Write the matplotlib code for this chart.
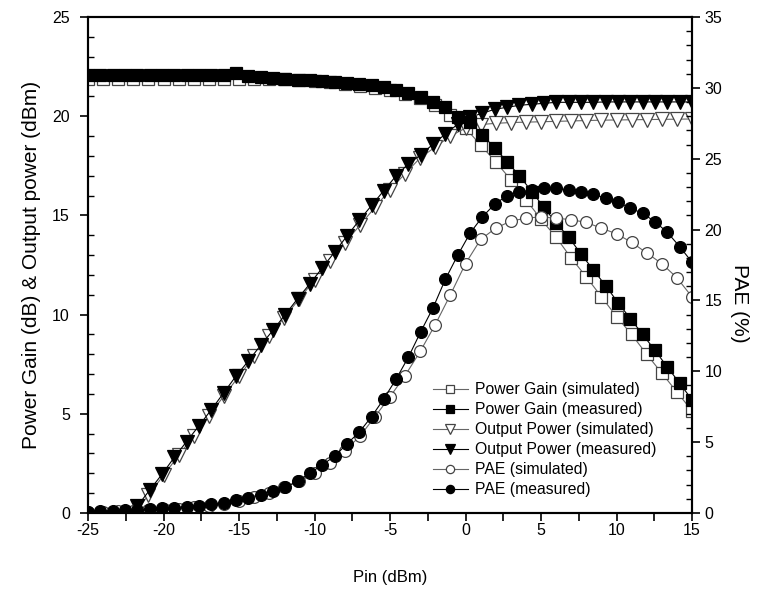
"""Power gain, output power and PAE versus input power (sim vs measured)."""
import matplotlib
matplotlib.use("Agg")
import matplotlib.pyplot as plt
from matplotlib.ticker import MultipleLocator

plt.rcParams["font.family"] = ["Liberation Sans", "DejaVu Sans"]
plt.rcParams["font.size"] = 11
plt.rcParams["axes.unicode_minus"] = False

# simulated sweep, 1 dB steps
pin_sim = [-25, -24, -23, -22, -21, -20, -19, -18, -17, -16, -15, -14, -13,
           -12, -11, -10, -9, -8, -7, -6, -5, -4, -3, -2, -1, 0, 1, 2, 3, 4,
           5, 6, 7, 8, 9, 10, 11, 12, 13, 14, 15]
gain_sim = [21.9, 21.9, 21.9, 21.9, 21.9, 21.9, 21.9, 21.9, 21.9, 21.9, 21.9,
            21.9, 21.9, 21.85, 21.8, 21.75, 21.7, 21.6, 21.5, 21.4, 21.3, 21.1,
            20.9, 20.55, 20.05, 19.4, 18.55, 17.7, 16.8, 15.8, 14.8, 13.9,
            12.85, 11.9, 10.9, 9.9, 9.0, 8.0, 7.05, 6.1, 5.15]
pout_sim = [-3.1, -2.1, -1.1, -0.1, 0.9, 1.9, 2.9, 3.9, 4.9, 5.9, 6.9, 7.9,
            8.9, 9.85, 10.8, 11.75, 12.7, 13.6, 14.5, 15.4, 16.3, 17.1, 17.9,
            18.45, 19.0, 19.4, 19.58, 19.64, 19.68, 19.7, 19.72, 19.74, 19.76,
            19.78, 19.8, 19.81, 19.82, 19.83, 19.84, 19.85, 19.86]
pae_sim = [0.08, 0.1, 0.12, 0.15, 0.2, 0.25, 0.3, 0.4, 0.5, 0.65, 0.85, 1.1,
           1.4, 1.8, 2.25, 2.8, 3.5, 4.4, 5.4, 6.8, 8.2, 9.7, 11.4, 13.3, 15.4,
           17.6, 19.3, 20.1, 20.6, 20.8, 20.9, 20.8, 20.7, 20.5, 20.1, 19.7,
           19.1, 18.35, 17.6, 16.6, 15.25]

# measured sweep, 50 points from -25 to 15 dBm
pin_meas = [-25.00, -24.18, -23.37, -22.55, -21.73, -20.92, -20.10, -19.29,
            -18.47, -17.65, -16.84, -16.02, -15.20, -14.39, -13.57, -12.76,
            -11.94, -11.12, -10.31, -9.49, -8.67, -7.86, -7.04, -6.22, -5.41,
            -4.59, -3.78, -2.96, -2.14, -1.33, -0.51, 0.31, 1.12, 1.94, 2.76,
            3.57, 4.39, 5.20, 6.02, 6.84, 7.65, 8.47, 9.29, 10.10, 10.92,
            11.73, 12.55, 13.37, 14.18, 15.00]
gain_meas = [22.1, 22.1, 22.1, 22.1, 22.1, 22.1, 22.1, 22.1, 22.1, 22.1, 22.1,
             22.1, 22.2, 22.05, 22.0, 21.93, 21.85, 21.83, 21.8, 21.78, 21.72,
             21.67, 21.62, 21.56, 21.47, 21.32, 21.18, 20.97, 20.72, 20.46,
             19.98, 19.7, 19.05, 18.4, 17.7, 17.0, 16.2, 15.4, 14.6, 13.9,
             13.05, 12.25, 11.45, 10.6, 9.8, 9.0, 8.2, 7.35, 6.55, 5.7]
pout_meas = [-2.9, -2.1, -1.27, -0.45, 0.35, 1.15, 1.95, 2.8, 3.6, 4.4, 5.2,
             6.05, 6.9, 7.65, 8.45, 9.2, 10.0, 10.8, 11.55, 12.35, 13.15,
             13.95, 14.75, 15.5, 16.25, 17.0, 17.6, 18.05, 18.6, 19.1, 19.6,
             19.95, 20.15, 20.35, 20.45, 20.55, 20.6, 20.65, 20.7, 20.7, 20.7,
             20.7, 20.72, 20.72, 20.72, 20.72, 20.72, 20.72, 20.72, 20.72]
pae_meas = [0.1, 0.12, 0.15, 0.18, 0.22, 0.27, 0.32, 0.38, 0.45, 0.52, 0.62,
            0.74, 0.9, 1.08, 1.3, 1.52, 1.8, 2.26, 2.8, 3.4, 4.0, 4.87, 5.7,
            6.8, 8.05, 9.46, 11.0, 12.8, 14.5, 16.5, 18.2, 19.76, 20.9, 21.8,
            22.4, 22.65, 22.8, 22.9, 22.9, 22.8, 22.65, 22.5, 22.2, 21.95,
            21.5, 21.15, 20.55, 19.8, 18.8, 17.7]

SIM_EDGE = "#444444"
SIM_LINE = "#666666"


def style_y(ax, pad):
    ax.yaxis.set_major_locator(MultipleLocator(5))
    ax.yaxis.set_minor_locator(MultipleLocator(1))
    ax.tick_params(axis="y", which="major", direction="out", length=6,
                   width=1.2, labelsize=11.5, pad=pad)
    ax.tick_params(axis="y", which="minor", direction="in", length=4, width=1.0)


fig = plt.figure(figsize=(7.67, 5.92), dpi=100)
ax = fig.add_axes([88 / 767, 79 / 592, 604 / 767, 496 / 592])
ax2 = ax.twinx()

sim_kw = dict(color=SIM_LINE, lw=0.8, mec=SIM_EDGE, mfc="white", mew=0.9)
meas_kw = dict(color="black", lw=0.8, mec="black", mfc="black", mew=0.9)

h1, = ax.plot(pin_sim, gain_sim, marker="s", ms=8, label="Power Gain (simulated)", **sim_kw)
h3, = ax.plot(pin_sim, pout_sim, marker="v", ms=9.5, label="Output Power (simulated)", **sim_kw)
h2, = ax.plot(pin_meas, gain_meas, marker="s", ms=8, label="Power Gain (measured)", **meas_kw)
h4, = ax.plot(pin_meas, pout_meas, marker="v", ms=9.5, label="Output Power (measured)", **meas_kw)
h5, = ax2.plot(pin_sim, pae_sim, marker="o", ms=8.5, label="PAE (simulated)", **sim_kw)
h6, = ax2.plot(pin_meas, pae_meas, marker="o", ms=8.5, label="PAE (measured)", **meas_kw)

ax.set_xlim(-25, 15)
ax.set_ylim(0, 25)
ax2.set_ylim(0, 35)

ax.xaxis.set_major_locator(MultipleLocator(5))
ax.xaxis.set_minor_locator(MultipleLocator(2.5))
ax.tick_params(axis="x", which="both", direction="out", length=6, width=1.2,
               labelsize=11.5, pad=1)
style_y(ax, 7)
style_y(ax2, 3)

for a in (ax, ax2):
    for sp in a.spines.values():
        sp.set_linewidth(1.5)

ax.set_xlabel("Pin (dBm)", fontsize=12, labelpad=23)
ax.set_ylabel("Power Gain (dB) & Output power (dBm)", fontsize=15, labelpad=8)
ax2.set_ylabel("PAE (%)", fontsize=15, rotation=270, labelpad=24)
ax2.yaxis.set_label_coords(1.095, (513 - 303) / 496)

ax2.legend(handles=[h1, h2, h3, h4, h5, h6], loc="upper left",
           bbox_to_anchor=(433 / 767, 1 - 382 / 592),
           bbox_transform=fig.transFigure, frameon=False, fontsize=11.3,
           handlelength=2.2, handletextpad=0.45, labelspacing=0.32,
           markerscale=0.7, borderaxespad=0, borderpad=0)

fig.savefig("out.png", dpi=100)
